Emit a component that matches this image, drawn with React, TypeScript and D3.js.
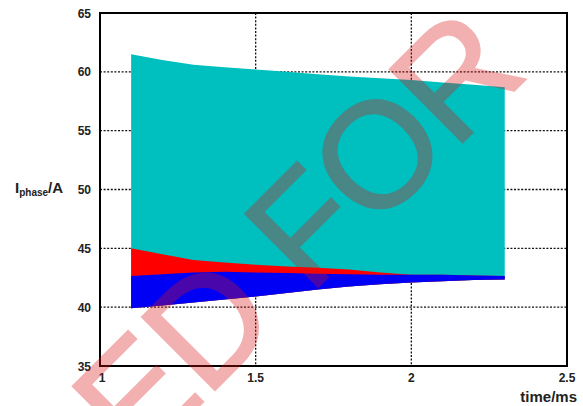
import React from "react";
import * as d3 from "d3";

const time = [1.1, 1.2, 1.3, 1.4, 1.5, 1.6, 1.7, 1.8, 1.9, 2.0, 2.1, 2.2, 2.3];
const cyanTop = [61.5, 61.0, 60.6, 60.4, 60.2, 60.0, 59.8, 59.6, 59.45, 59.3, 59.1, 58.9, 58.7];
const redTop = [45.0, 44.5, 44.0, 43.8, 43.6, 43.45, 43.35, 43.2, 42.95, 42.75, 42.75, 42.7, 42.65];
const blueTop = [42.65, 42.8, 42.95, 43.0, 42.95, 42.9, 42.85, 42.8, 42.75, 42.75, 42.75, 42.7, 42.65];
const blueBottom = [39.9, 40.15, 40.4, 40.65, 40.9, 41.2, 41.5, 41.75, 41.95, 42.1, 42.2, 42.3, 42.35];

const xTicks = [1, 1.5, 2, 2.5];
const yTicks = [35, 40, 45, 50, 55, 60, 65];
const watermark = "ED FOR";

const W = 583;
const H = 406;
const left = 100;
const right = 567;
const top = 13;
const bottom = 366;

export default function App() {
  const x = d3.scaleLinear().domain([1, 2.5]).range([left, right]);
  const y = d3.scaleLinear().domain([35, 65]).range([bottom, top]);

  const band = (hi: number[], lo: number[]) =>
    d3
      .area<number>()
      .x((_, i) => x(time[i]))
      .y0((_, i) => y(lo[i]))
      .y1((_, i) => y(hi[i]))(time) as string;

  const font = "Arial, 'Liberation Sans', sans-serif";

  // watermark placement
  const wx = 137;
  const wy = 468;

  return (
    <svg
      width={W}
      height={H}
      style={{ position: "absolute", left: 0, top: 0, background: "#fff" }}
      fontFamily={font}
    >
      <rect x={0} y={0} width={W} height={H} fill="#fff" />
      {/* grid */}
      {xTicks.slice(1, -1).map((t) => (
        <line
          key={"gx" + t}
          x1={x(t)}
          x2={x(t)}
          y1={top}
          y2={bottom}
          stroke="#111"
          strokeWidth={1.3}
          strokeDasharray="2 1.6"
        />
      ))}
      {yTicks.slice(1, -1).map((t) => (
        <line
          key={"gy" + t}
          x1={left}
          x2={right}
          y1={y(t)}
          y2={y(t)}
          stroke="#111"
          strokeWidth={1.3}
          strokeDasharray="2 1.6"
        />
      ))}
      {/* data bands */}
      <path d={band(cyanTop, blueBottom)} fill="#00bfbf" />
      <path d={band(redTop, blueBottom)} fill="#ff0000" />
      <path d={band(blueTop, blueBottom)} fill="#0000f5" />
      {/* frame */}
      <rect
        x={left}
        y={top}
        width={right - left}
        height={bottom - top}
        fill="none"
        stroke="#000"
        strokeWidth={2}
      />
      {/* tick labels */}
      {yTicks.map((t) => (
        <text
          key={"ly" + t}
          x={91}
          y={y(t) + 4.5}
          textAnchor="end"
          fontSize={12}
          fontWeight="bold"
          fill="#222"
        >
          {t}
        </text>
      ))}
      {xTicks.map((t) => (
        <text
          key={"lx" + t}
          x={x(t) + (t === 1 ? 2 : 0)}
          y={382}
          textAnchor="middle"
          fontSize={12}
          fontWeight="bold"
          fill="#222"
        >
          {t}
        </text>
      ))}
      {/* axis titles */}
      <text x={15} y={193} fontSize={15} fontWeight="bold" fill="#222">
        I
        <tspan fontSize={10} dy={3}>
          phase
        </tspan>
        <tspan dy={-3}>/A</tspan>
      </text>
      <text
        x={577}
        y={402}
        textAnchor="end"
        fontSize={15}
        fontWeight="bold"
        fill="#222"
      >
        time/ms
      </text>
      {/* watermark */}
      <text
        x={wx}
        y={wy}
        transform={`rotate(-45 ${wx} ${wy})`}
        fontSize={150}
        fontWeight="normal"
        fill="rgb(220,20,20)"
        stroke="rgb(220,20,20)"
        strokeWidth={2}
        strokeLinejoin="miter"
        opacity={0.33}
        letterSpacing={-2}
        style={{ whiteSpace: "pre" }}
      >
        {watermark}
      </text>
    </svg>
  );
}
